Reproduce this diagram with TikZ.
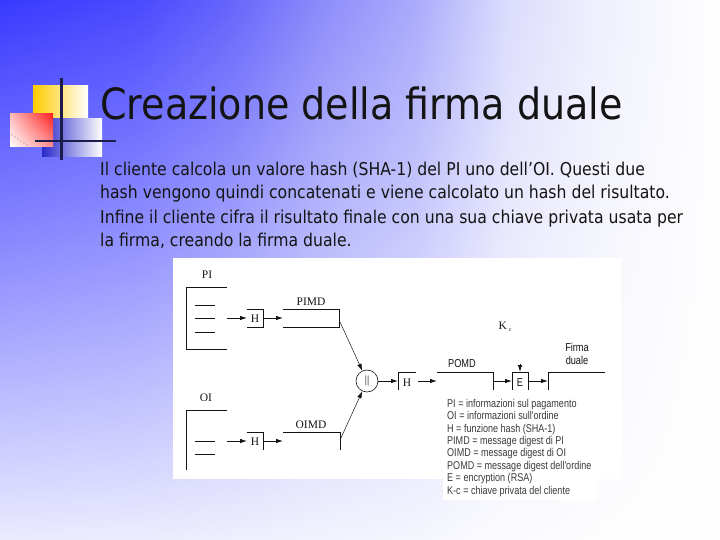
\documentclass[tikz,border=0pt]{standalone}
\usepackage{fontspec}
\setmainfont{DejaVu Sans}[FakeStretch=0.885]
\newfontfamily\serifd{Liberation Serif}
\newfontfamily\narrowf{Liberation Sans}[FakeStretch=0.8]
\usetikzlibrary{arrows.meta,fadings,shadings}
\definecolor{bgA}{HTML}{3A3AFF}
\definecolor{bgB}{HTML}{4A4AFF}
\definecolor{bgC}{HTML}{6565FC}
\definecolor{bgD}{HTML}{8D8DFB}
\definecolor{bgE}{HTML}{AAAAFC}
\definecolor{bgF}{HTML}{DCDCFD}
\definecolor{bgG}{HTML}{F0F0FD}
\definecolor{logoY}{HTML}{FFCC00}
\definecolor{logoB}{HTML}{2A2ACC}
\definecolor{logoR}{HTML}{FF2020}
\definecolor{barc}{HTML}{1C1C4A}
\definecolor{ink}{HTML}{141414}
\definecolor{legc}{HTML}{3A3A3A}
\pgfdeclarehorizontalshading{bgshade}{100bp}{color(0bp)=(bgA); color(25bp)=(bgA); color(34.6bp)=(bgB); color(41bp)=(bgC); color(47.4bp)=(bgD); color(53.8bp)=(bgE); color(60.2bp)=(bgF); color(66.7bp)=(bgG); color(75bp)=(white); color(100bp)=(white)}
\tikzfading[name=fadedown, top color=transparent!100, bottom color=transparent!10]
\tikzset{
  dline/.style={draw=ink, line width=0.8pt},
  arr/.style={dline, -{Latex[length=7pt,width=4.5pt]}},
  dlab/.style={font=\serifd\fontsize{11.5}{11.5}\selectfont, text=ink, inner sep=0pt},
  slab/.style={font=\narrowf\fontsize{11.5}{11.5}\selectfont, text=ink, inner sep=0pt},
  bodytxt/.style={anchor=base west, inner sep=0pt, font=\fontsize{17.7}{17.7}\selectfont, text=ink}
}
\begin{document}
\begin{tikzpicture}[x=1pt,y=-1pt]
% background
\shade[shading=bgshade] (0,0) rectangle (720,540);
\fill[white, path fading=fadedown] (0,0) rectangle (720,540);
\useasboundingbox (0,0) rectangle (720,540);
% logo
\shade[left color=logoY, middle color=logoY!80!white, right color=white] (33,86) rectangle (88,119);
\shade[left color=logoB, middle color=logoB!75!white, right color=white] (42,119) rectangle (102,157);
\shade[upper right=logoR, upper left=logoR!30!white, lower right=logoR!50!white, lower left=white] (10,114) rectangle (53,147);
\foreach \p in {(12,135),(15,137),(18,139),(21,141),(24,143),(27,145)} \fill[gray] \p circle (0.6);
\draw[barc, line width=3pt] (61,78) -- (61,160);
\draw[barc, line width=2.5pt] (35,141) -- (116,141);
% title
\node[anchor=base west, inner sep=0pt, font=\fontsize{43}{43}\selectfont, text=ink] (title) at (100,120) {Creazione della firma duale};
% body
\node[bodytxt] (l1) at (100,176) {Il cliente calcola un valore hash (SHA-1) del PI uno dell\char39OI. Questi due};
\node[bodytxt] (l2) at (100,199) {hash vengono quindi concatenati e viene calcolato un hash del risultato.};
\node[bodytxt] (l3) at (100,223) {Infine il cliente cifra il risultato finale con una sua chiave privata usata per};
\node[bodytxt] (l4) at (100,247) {la firma, creando la firma duale.};
% panel
\fill[white] (173,258) rectangle (621,479);
\fill[white] (443,479) rectangle (597,500);
% PI part
\node[dlab] (pilab) at (207,275) {PI};
\draw[dline] (227,287) -- (186,287) -- (186,349) -- (227,349);
\foreach \yy in {305,318,332} \draw[dline] (195,\yy) -- (215,\yy);
\coordinate (piout) at (227,318);
\coordinate (h1in) at (247,318);
\draw[arr] (piout) -- (h1in);
\draw[dline] (247,309) -- (263,309) -- (263,327) -- (247,327);
\node[dlab] (h1) at (255,319) {H};
\coordinate (h1out) at (263,318);
\coordinate (pimdin) at (283,318);
\draw[arr] (h1out) -- (pimdin);
\draw[dline] (283,309) -- (339,309) -- (339,327) -- (283,327);
\node[dlab] (pimd) at (311,302) {PIMD};
\coordinate (pimdout) at (340,322);
% circle
\node[draw=ink, line width=0.6pt, circle, minimum size=22pt, inner sep=0pt, font=\serifd\fontsize{11}{11}\selectfont, text=ink] (conc) at (367,381) {||};
\draw[draw=ink, line width=0.5pt, -{Latex[length=7pt,width=4.5pt]}] (pimdout) -- (conc);
% OI part
\node[dlab] (oilab) at (206,398) {OI};
\draw[dline] (227,410) -- (186,410) -- (186,470);
\foreach \yy in {441,454} \draw[dline] (195,\yy) -- (215,\yy);
\coordinate (oiout) at (227,441);
\coordinate (h2in) at (247,441);
\draw[arr] (oiout) -- (h2in);
\draw[dline] (247,432) -- (263,432) -- (263,450);
\node[dlab] (h2) at (255,442) {H};
\coordinate (h2out) at (263,441);
\coordinate (oimdin) at (283,441);
\draw[arr] (h2out) -- (oimdin);
\draw[dline] (283,432) -- (340,432) -- (340,450);
\node[dlab] (oimd) at (311,425) {OIMD};
\coordinate (oimdout) at (340,440);
\draw[draw=ink, line width=0.5pt, -{Latex[length=7pt,width=4.5pt]}] (oimdout) -- (conc);
% POMD chain
\coordinate (h3in) at (398,381);
\draw[arr] (conc) -- (h3in);
\draw[dline] (398,390) -- (398,372) -- (416,372);
\node[dlab] (h3) at (407,383) {H};
\coordinate (h3out) at (418,381);
\coordinate (pomdin) at (437,381);
\draw[arr] (h3out) -- (pomdin);
\draw[dline] (437,372) -- (493,372) -- (493,390);
\node[slab] (pomd) at (462,364) {POMD};
\coordinate (pomdout) at (493,381);
\coordinate (ein) at (512,381);
\draw[arr] (pomdout) -- (ein);
\draw[dline] (512,390) -- (512,372) -- (528,372) -- (528,390);
\node[slab] (enc) at (520,383) {E};
\coordinate (keyfrom) at (520,364);
\coordinate (etop) at (520,372);
\draw[arr] (keyfrom) -- (etop);
\coordinate (eout) at (528,381);
\coordinate (firmain) at (548,381);
\draw[arr] (eout) -- (firmain);
\draw[dline] (548,390) -- (548,372) -- (605,372);
\node[slab, align=center, font=\narrowf\fontsize{11.5}{12.5}\selectfont] (firma) at (577,354) {Firma\\duale};
\node[dlab] (klab) at (505,327) {K\,\raisebox{-1.5pt}{\fontsize{6}{6}\selectfont c}};
% legend
\node[anchor=north west, inner sep=0pt, align=left, text=legc, font=\narrowf\fontsize{11.3}{12.4}\selectfont] (legend) at (447,399) {PI = informazioni sul pagamento\\OI = informazioni sull'ordine\\H = funzione hash (SHA-1)\\PIMD = message digest di PI\\OIMD = message digest di OI\\POMD = message digest dell'ordine\\E = encryption (RSA)\\K-c = chiave privata del cliente};
\end{tikzpicture}
\end{document}
